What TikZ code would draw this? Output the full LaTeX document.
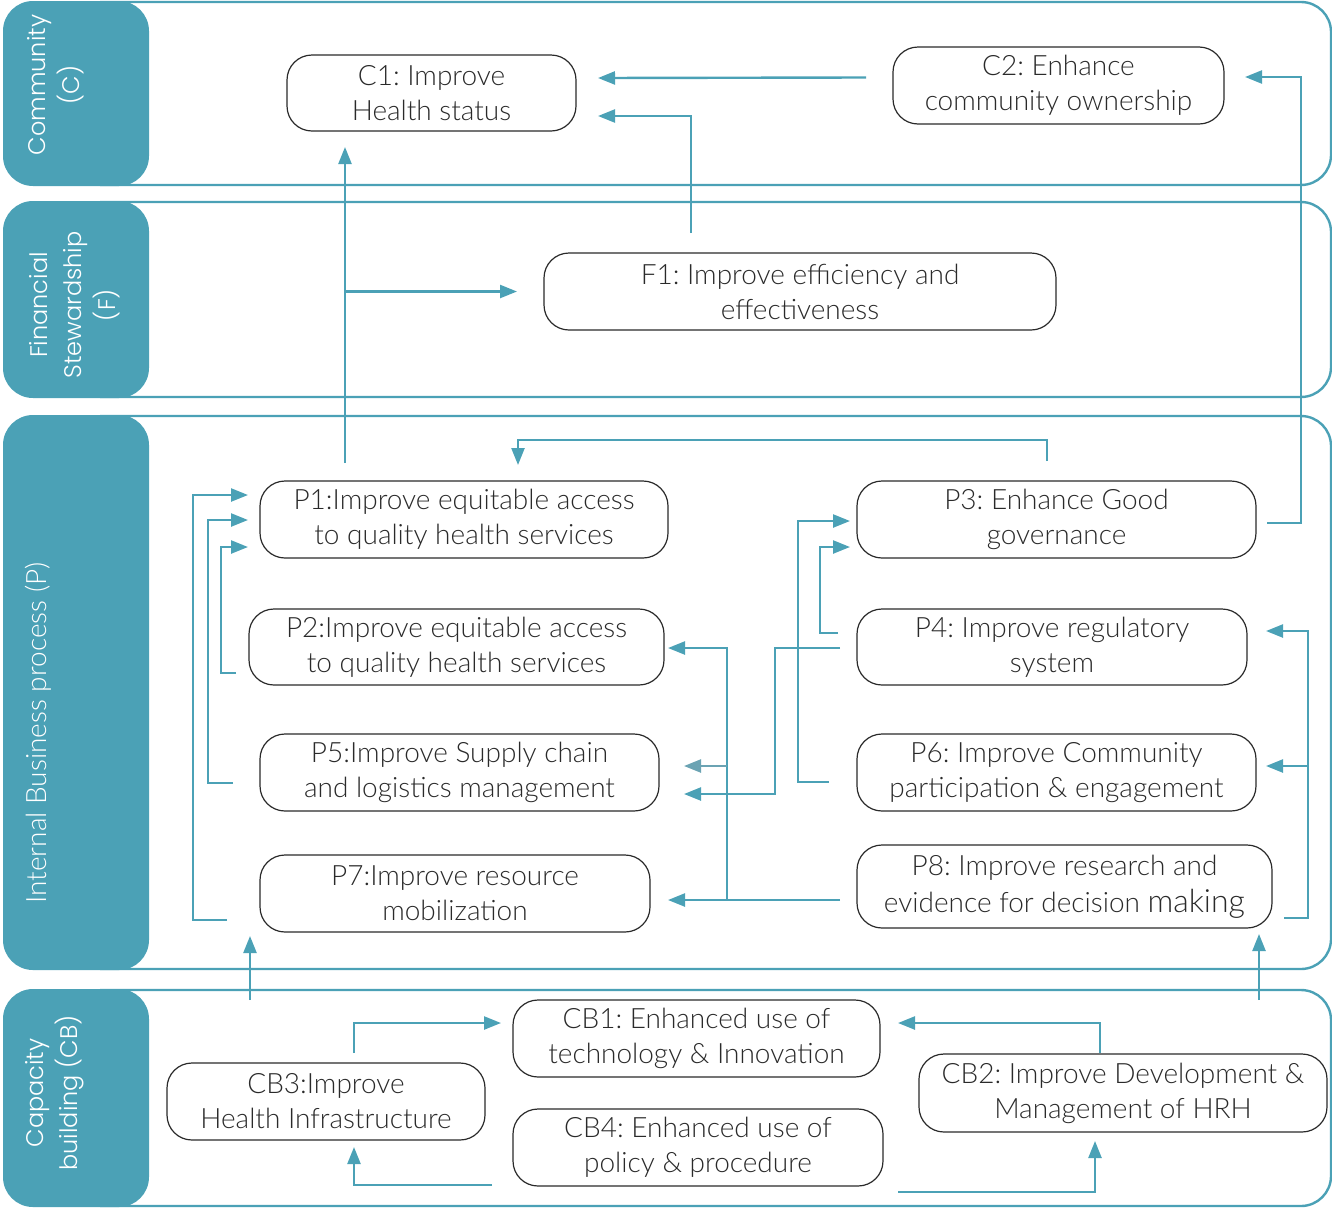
\documentclass[tikz,border=0pt]{standalone}
\usepackage{fontspec}
\setmainfont{Lato}[UprightFont=* Light]
\newfontfamily\lanefont{Poppins}[UprightFont=* Light]
\usetikzlibrary{arrows.meta,calc}
\definecolor{teal1}{HTML}{4BA1B6}
\definecolor{teal2}{HTML}{6BA3B3}
\definecolor{txt}{HTML}{2A2A2A}
\begin{document}
\frenchspacing
\begin{tikzpicture}[x=1pt,y=-1pt,
  box/.style={draw=txt, line width=1.2pt, rounded corners=25pt, align=center, text=txt,
    font=\fontsize{28}{35}\selectfont, inner sep=0pt, outer sep=0pt},
  conn/.style={draw=teal1, line width=2.4pt, -{Triangle[length=17pt,width=13pt]}},
  lane/.style={draw=teal1, line width=2.4pt, rounded corners=30pt},
  lanetext/.style={text=white, rotate=90, align=center, font=\lanefont\fontsize{24}{34}\selectfont}
]
\useasboundingbox (0,0) rectangle (1332,1208);

% lanes
\draw[lane] (100,2) -- (1331,2) -- (1331,185) -- (100,185);
\draw[lane] (100,202) -- (1331,202) -- (1331,397) -- (100,397);
\draw[lane] (100,416) -- (1331,416) -- (1331,969) -- (100,969);
\draw[lane] (100,990) -- (1331,990) -- (1331,1206) -- (100,1206);
\fill[teal1, rounded corners=30pt] (3,1) rectangle (149,186);
\fill[teal1, rounded corners=30pt] (3,201) rectangle (149,398);
\fill[teal1, rounded corners=30pt] (3,415) rectangle (149,970);
\fill[teal1, rounded corners=30pt] (3,989) rectangle (149,1207);

\node[lanetext] (LC) at (56,85) {Community\\(C)};
\node[lanetext] (LF) at (75,305) {Financial\\Stewardship\\(F)};
\node[lanetext, font=\fontsize{28}{35}\selectfont] (LP) at (38,733) {Internal Business process (P)};
\node[lanetext] (LCB) at (55,1093) {Capacity\\building (CB)};

% boxes
\node[box, minimum width=289pt, minimum height=76pt] (C1) at (431.5,93) {C1: Improve\\Health status};
\node[box, minimum width=331pt, minimum height=77pt] (C2) at (1058.5,85.5) {C2: Enhance\\community ownership};
\node[box, minimum width=512pt, minimum height=77pt] (F1) at (800,291.5) {F1: Improve efficiency and\\effectiveness};
\node[box, minimum width=408pt, minimum height=77pt] (P1) at (464,519.5) {P1:Improve equitable access\\to quality health services};
\node[box, minimum width=415pt, minimum height=76pt] (P2) at (456.5,647) {P2:Improve equitable access\\to quality health services};
\node[box, minimum width=399pt, minimum height=77pt] (P5) at (459.5,772.5) {P5:Improve Supply chain\\and logistics management};
\node[box, minimum width=390pt, minimum height=77pt] (P7) at (455,893.5) {P7:Improve resource\\mobilization};
\node[box, minimum width=399pt, minimum height=77pt] (P3) at (1056.5,519.5) {P3: Enhance Good\\governance};
\node[box, minimum width=390pt, minimum height=76pt] (P4) at (1052,647) {P4: Improve regulatory\\system};
\node[box, minimum width=399pt, minimum height=77pt] (P6) at (1056.5,772.5) {P6: Improve Community\\participation \& engagement};
\node[box, minimum width=415pt, minimum height=83pt] (P8) at (1064.5,886.5) {P8: Improve research and\\[2pt]evidence for decision {\fontsize{32}{35}\selectfont making}};
\node[box, minimum width=367pt, minimum height=77pt] (CB1) at (696.5,1038.5) {CB1: Enhanced use of\\technology \& Innovation};
\node[box, minimum width=318pt, minimum height=77pt] (CB3) at (326,1101.5) {CB3:Improve\\Health Infrastructure};
\node[box, minimum width=370pt, minimum height=77pt] (CB4) at (698,1147.5) {CB4: Enhanced use of\\policy \& procedure};
\node[box, minimum width=408pt, minimum height=78pt] (CB2) at (1123,1093) {CB2: Improve Development \&\\Management of HRH};

% connectors
\draw[conn] ($(C2.west)+(-27,-8)$) -- ($(C1.east)+(22,-15)$);
\draw[conn] ($(F1.north)+(-109,-20)$) |- ($(C1.east)+(22,23)$);
\draw[conn] ($(P1.north)+(-119,-18)$) coordinate (p1up) -- ($(C1.south)+(-86.5,16)$);
\draw[conn] (p1up |- F1.west) -- ($(F1.west)+(-27,0)$);
\draw[conn] ($(P3.north)+(-9.5,-20)$) -- ++(0,-21) -| ($(P1.north)+(54,-16)$);
\draw[conn] ($(P3.east)+(11,3.5)$) -| ($(C2.east)+(77,-8.5)$) -- ($(C2.east)+(21,-8.5)$);

\draw[conn] ($(P7.west)+(-33,26.5)$) -| ($(P1.west)+(-67,-24.5)$) -- ($(P1.west)+(-12,-24.5)$);
\draw[conn] ($(P5.west)+(-27,10.5)$) -| ($(P1.west)+(-52,0.5)$) -- ($(P1.west)+(-12,0.5)$);
\draw[conn] ($(P2.west)+(-13,26)$) -| ($(P1.west)+(-39,27.5)$) -- ($(P1.west)+(-12,27.5)$);

\draw[conn] ($(P8.west)+(-17,13.5)$) -- ($(P7.east)+(18,6.5)$);
\coordinate (J) at ($(P7.east)+(77,6.5)$);
\draw[conn] (J) |- ($(P2.east)+(4,1)$);
\coordinate (p5a) at ($(P5.east)+(25,-6.5)$);
\draw[conn, draw=teal2] (J |- p5a) -- (p5a);
\draw[conn] ($(P4.west)+(-17,1)$) -| ($(P5.east)+(116,21.5)$) -- ($(P5.east)+(25,21.5)$);

\draw[conn] ($(P6.west)+(-28,9.5)$) -| ($(P3.west)+(-59,1.5)$) -- ($(P3.west)+(-7,1.5)$);
\draw[conn] ($(P4.west)+(-19,-14)$) -| ($(P3.west)+(-37,27.5)$) -- ($(P3.west)+(-7,27.5)$);

\draw[conn] ($(P8.east)+(12,31.5)$) -| ($(P4.east)+(61,-16)$) -- ($(P4.east)+(19,-16)$);
\draw[conn] ($(P6.east)+(52,-6.5)$) -- ($(P6.east)+(10,-6.5)$);

\draw[conn] ($(CB3.north)+(-76,-63)$) -- ($(P7.south)+(-205,4)$);
\draw[conn] ($(CB2.north)+(136,-54)$) -- ($(P8.south)+(194.5,6)$);

\draw[conn] ($(CB3.north)+(28,-10)$) |- ($(CB1.west)+(-12,-15.5)$);
\draw[conn] ($(CB4.west)+(-21,37.5)$) -| ($(CB3.south)+(28,7)$);
\draw[conn] ($(CB2.north)+(-23,-1)$) |- ($(CB1.east)+(18,-15.5)$);
\draw[conn] ($(CB4.east)+(15,44.5)$) -| ($(CB2.south)+(-28,9)$);
\end{tikzpicture}
\end{document}
